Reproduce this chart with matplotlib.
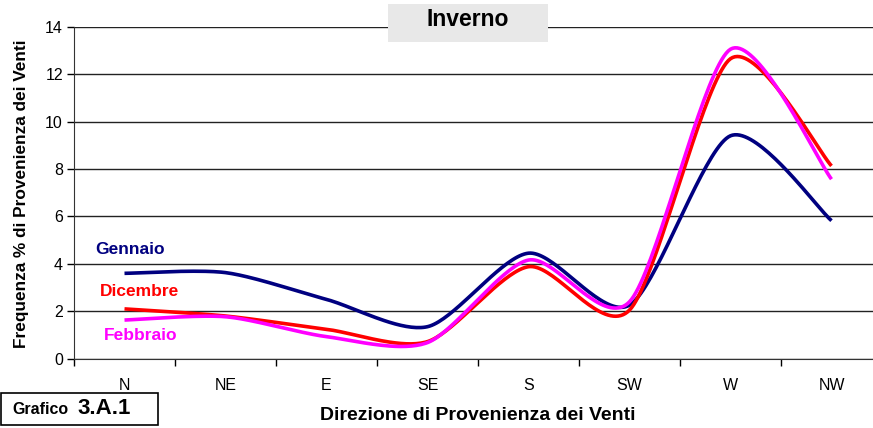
import numpy as np
import matplotlib.pyplot as plt
from matplotlib.patches import Rectangle

plt.rcParams['font.family'] = ['Liberation Sans', 'DejaVu Sans']

directions = ["N", "NE", "E", "SE", "S", "SW", "W", "NW"]
gennaio = [3.6, 3.63, 2.5, 1.35, 4.45, 2.26, 9.4, 5.82]
dicembre = [2.1, 1.8, 1.24, 0.72, 3.88, 2.05, 12.65, 8.13]
febbraio = [1.63, 1.77, 0.93, 0.68, 4.16, 2.4, 13.05, 7.57]

series = [("Gennaio", gennaio, "#000080"),
          ("Dicembre", dicembre, "#ff0000"),
          ("Febbraio", febbraio, "#ff00ff")]


def smooth(xs, ys, f=1 / 7.5, n=40):
    # smoothed line through the points (bezier, catmull-rom style)
    pts = np.column_stack([xs, ys]).astype(float)
    out = []
    for i in range(len(pts) - 1):
        p0 = pts[i - 1] if i > 0 else pts[i]
        p1 = pts[i]
        p2 = pts[i + 1]
        p3 = pts[i + 2] if i + 2 < len(pts) else pts[i + 1]
        c1 = p1 + (p2 - p0) * f
        c2 = p2 - (p3 - p1) * f
        t = np.linspace(0, 1, n)[:, None]
        seg = ((1 - t) ** 3 * p1 + 3 * (1 - t) ** 2 * t * c1
               + 3 * (1 - t) * t ** 2 * c2 + t ** 3 * p2)
        out.append(seg if i == 0 else seg[1:])
    out = np.vstack(out)
    return out[:, 0], out[:, 1]


W, H = 873, 428
fig = plt.figure(figsize=(W / 100, H / 100), dpi=100)
ax = fig.add_axes([74 / W, 1 - 358.7 / H, 808 / W, (358.7 - 26.7) / H])

x = np.arange(len(directions))
for name, vals, col in series:
    sx, sy = smooth(x, vals)
    ax.plot(sx, sy, color=col, lw=2.6, solid_capstyle='butt', zorder=3)

ax.set_xlim(-0.5, len(directions) - 0.5)
ax.set_ylim(0, 14)
ax.set_yticks(range(0, 15, 2))
ax.set_xticks(np.arange(-0.5, len(directions), 1))
ax.set_xticklabels([])
ax.set_xticks(x, minor=True)
ax.set_xticklabels(directions, minor=True)
ax.tick_params(axis='x', which='minor', length=0, pad=14, labelsize=11.5)
ax.tick_params(axis='x', which='major', length=5, direction='out', width=1)
ax.tick_params(axis='y', length=5, direction='out', width=1, labelsize=11.5, pad=3)
ax.grid(axis='y', color='#222222', lw=1)
ax.set_axisbelow(True)
for s in ['top', 'right']:
    ax.spines[s].set_visible(False)
ax.spines['left'].set_color('#333333')
ax.spines['bottom'].set_color('#333333')

fig.text(22 / W, 1 - 194 / H, "Frequenza % di Provenienza dei Venti",
         rotation=90, ha='center', va='center', fontsize=12.4, fontweight='bold')
fig.text(478 / W, 1 - 415 / H, "Direzione di Provenienza dei Venti",
         ha='center', va='center', fontsize=14, fontweight='bold')

# series labels
fig.text(95 / W, 1 - 250 / H, "Gennaio", color="#000080", fontsize=12.5,
         fontweight='bold', va='center')
fig.text(100 / W, 1 - 292 / H, "Dicembre", color="#ff0000", fontsize=12.5,
         fontweight='bold', va='center')
fig.text(104 / W, 1 - 335 / H, "Febbraio", color="#ff00ff", fontsize=12.5,
         fontweight='bold', va='center')

# title box
fig.patches.append(Rectangle((388 / W, 1 - 42 / H), 160 / W, 38 / H,
                             transform=fig.transFigure, facecolor='#e8e8e8',
                             edgecolor='none', zorder=5))
fig.text(468 / W, 1 - 20 / H, "Inverno", ha='center', va='center',
         fontsize=16.5, fontweight='bold', zorder=6)

# caption box
fig.patches.append(Rectangle((1 / W, 1 - 425 / H), 157 / W, 32 / H,
                             transform=fig.transFigure, facecolor='white',
                             edgecolor='black', lw=1.2, zorder=5))
fig.text(12 / W, 1 - 410 / H, "Grafico", ha='left', va='center',
         fontsize=11.5, fontweight='bold', zorder=6)
fig.text(77 / W, 1 - 408 / H, "3.A.1", ha='left', va='center',
         fontsize=16, fontweight='bold', zorder=6)

fig.savefig("out.png", dpi=100)
